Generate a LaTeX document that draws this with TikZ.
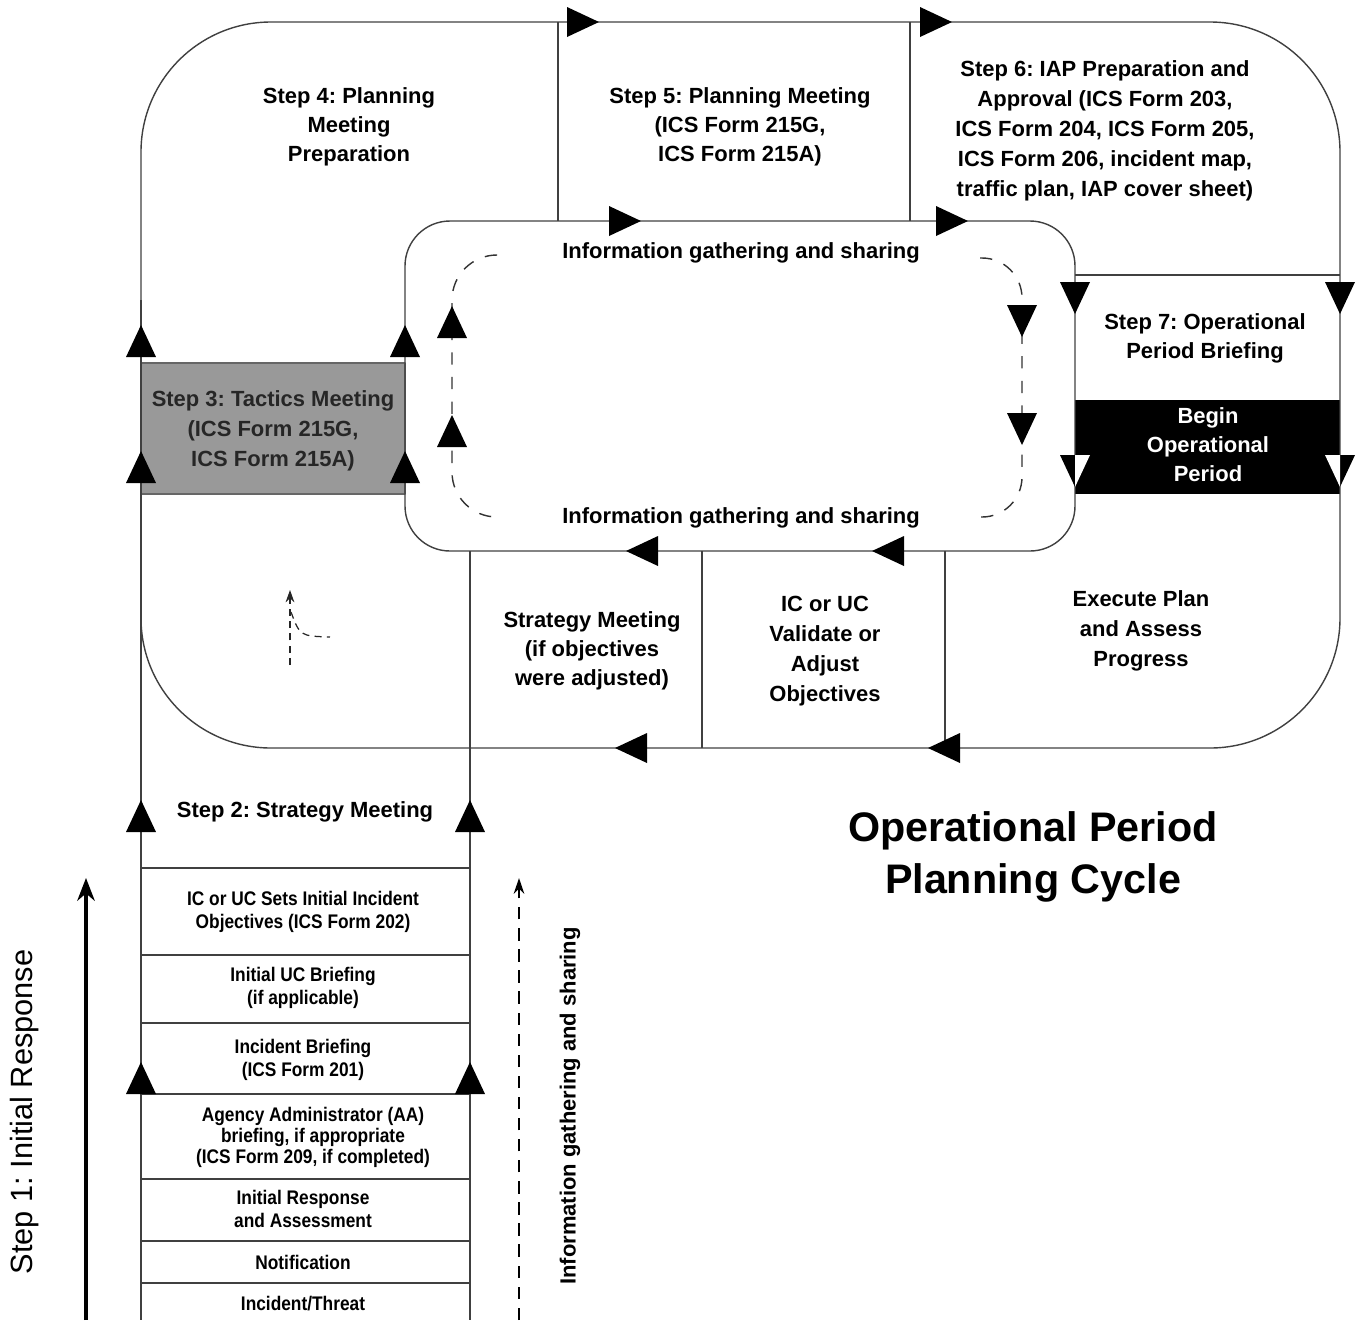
\documentclass[tikz,border=0pt]{standalone}
\usepackage{fontspec}
\setmainfont{Liberation Sans}
\newfontfamily\narrowfont[FakeStretch=0.88]{Liberation Sans}
\usetikzlibrary{arrows.meta,calc}
\frenchspacing

\begin{document}
\begin{tikzpicture}[x=0.02cm,y=-0.02cm,line join=round,
    ln/.style={draw=black!75,line width=0.8pt},
    dsh/.style={draw=black!80,line width=0.8pt,dash pattern=on 7pt off 7pt},
    lbl/.style={align=center,inner sep=0pt,font=\fontsize{12.5}{16.5}\selectfont\bfseries},
    cell/.style={align=center,inner sep=0pt,font=\narrowfont\fontsize{11.2}{13.5}\selectfont\bfseries},
    tri/.pic={\fill (0,-15) -- (32,0) -- (0,15) -- cycle;}]
\useasboundingbox (0,0) rectangle (1363,1320);

% corners of the two loops
\coordinate (otl) at (141,22);
\coordinate (obr) at (1340,748);
\coordinate (itl) at (405,221);
\coordinate (ibr) at (1075,551);

% shaded boxes
\filldraw[fill=black!40,draw=black!60,line width=0.8pt] (141,363) rectangle (405,494);
\fill[black] (1075,400) rectangle (1340,494);

% outer and inner loop
\draw[ln,rounded corners=2.6cm] (otl) rectangle (obr);
\draw[ln,rounded corners=0.9cm] (itl) rectangle (ibr);

% dividers
\draw[ln] (558,22) -- (558,221);
\draw[ln] (910,22) -- (910,221);
\draw[ln] (1075,275) -- (1340,275);
\draw[ln] (702,551) -- (702,748);
\draw[ln] (945,551) -- (945,748);
\draw[ln] (141,300) -- (141,1320);
\draw[ln] (470,551) -- (470,1320);
\foreach \y in {868,955,1023,1094,1179,1241,1283}
  \draw[ln] (141,\y) -- (470,\y);

% dashed inner cycle
\draw[dsh,rounded corners=0.9cm] (497,255) -- (452,255) -- (452,517) -- (497,517);
\draw[dsh,rounded corners=0.8cm] (980,258) -- (1022,258) -- (1022,517) -- (980,517);

% flow triangles
\foreach \x in {567,920} \pic at (\x,22) {tri};
\foreach \x in {609,936} \pic at (\x,221) {tri};
\foreach \x in {658,904} \pic[rotate=180] at (\x,551) {tri};
\foreach \x in {647,960} \pic[rotate=180] at (\x,748) {tri};
\foreach \x in {141,405} {
  \pic[rotate=90] at (\x,357) {tri};
  \pic[rotate=90] at (\x,483) {tri};
}
\foreach \x in {141,470} {
  \pic[rotate=90] at (\x,832) {tri};
  \pic[rotate=90] at (\x,1094) {tri};
}
\foreach \x in {1075,1340} {
  \pic[rotate=-90] at (\x,282) {tri};
  \pic[rotate=-90] at (\x,455) {tri};
}
\begin{scope}
  \clip (1075,400) rectangle (1340,494);
  \foreach \x in {1075,1340} \pic[rotate=-90,white] at (\x,455) {tri};
\end{scope}
\pic[rotate=90] at (452,338) {tri};
\pic[rotate=90] at (452,447) {tri};
\pic[rotate=-90] at (1022,305) {tri};
\pic[rotate=-90] at (1022,413) {tri};

% small dashed arrow
\draw[black!85,line width=0.7pt,dash pattern=on 4pt off 3pt,-{Stealth[length=7pt,width=5pt]}] (290,665) -- (290,590);
\draw[black!85,line width=0.7pt,dash pattern=on 4pt off 3pt] (291,612) .. controls (300,636) .. (330,637);

% side arrows
\draw[line width=1.8pt,-{Stealth[length=13pt,width=10pt]}] (86,1320) -- (86,878);
\draw[line width=0.9pt,dash pattern=on 7pt off 5pt,-{Stealth[length=9pt,width=6pt]}] (519,1320) -- (519,878);

% labels
\node[lbl] (step4) at (349,127) {Step 4: Planning\\Meeting\\Preparation};
\node[lbl] (step5) at (740,127) {Step 5: Planning Meeting\\(ICS Form 215G,\\ICS Form 215A)};
\node[lbl,font=\fontsize{12.5}{17}\selectfont\bfseries] (step6) at (1105,131)
  {Step 6: IAP Preparation and\\Approval (ICS Form 203,\\ICS Form 204, ICS Form 205,\\ICS Form 206, incident map,\\traffic plan, IAP cover sheet)};
\node[lbl] (infotop) at (741,253) {Information gathering and sharing};
\node[lbl] (infobot) at (741,518) {Information gathering and sharing};
\node[lbl,text=black!85,font=\fontsize{12.5}{17}\selectfont\bfseries] (step3) at (273,431) {Step 3: Tactics Meeting\\(ICS Form 215G,\\ICS Form 215A)};
\node[lbl] (step7) at (1205,338) {Step 7: Operational\\Period Briefing};
\node[lbl,text=white] (beginop) at (1208,445) {Begin\\Operational\\Period};
\node[lbl] (stratmeet) at (592,651) {Strategy Meeting\\(if objectives\\were adjusted)};
\node[lbl,font=\fontsize{12.5}{17}\selectfont\bfseries] (validate) at (825,651) {IC or UC\\Validate or\\Adjust\\Objectives};
\node[lbl,font=\fontsize{12.5}{17}\selectfont\bfseries] (execute) at (1141,631) {Execute Plan\\and Assess\\Progress};
\node[lbl] (step2) at (305,812) {Step 2: Strategy Meeting};

\node[cell] (c1) at (303,912) {IC or UC Sets Initial Incident\\Objectives (ICS Form 202)};
\node[cell] (c2) at (303,988) {Initial UC Briefing\\(if applicable)};
\node[cell] (c3) at (303,1060) {Incident Briefing\\(ICS Form 201)};
\node[cell,font=\narrowfont\fontsize{11.2}{12}\selectfont\bfseries] (c4) at (313,1137) {Agency Administrator (AA)\\briefing, if appropriate\\(ICS Form 209, if completed)};
\node[cell] (c5) at (303,1209) {Initial Response\\and Assessment};
\node[cell] (c6) at (303,1262) {Notification};
\node[cell] (c7) at (303,1304) {Incident/Threat};

\node[inner sep=0pt,rotate=90,font=\fontsize{17.5}{20}\selectfont] (step1) at (25,1112) {Step 1: Initial Response};
\node[lbl,rotate=90] (infoside) at (570,1106) {Information gathering and sharing};
\node[align=center,inner sep=0pt,font=\fontsize{23.5}{30}\selectfont\bfseries] (title) at (1033,857) {Operational Period\\Planning Cycle};
\end{tikzpicture}
\end{document}
